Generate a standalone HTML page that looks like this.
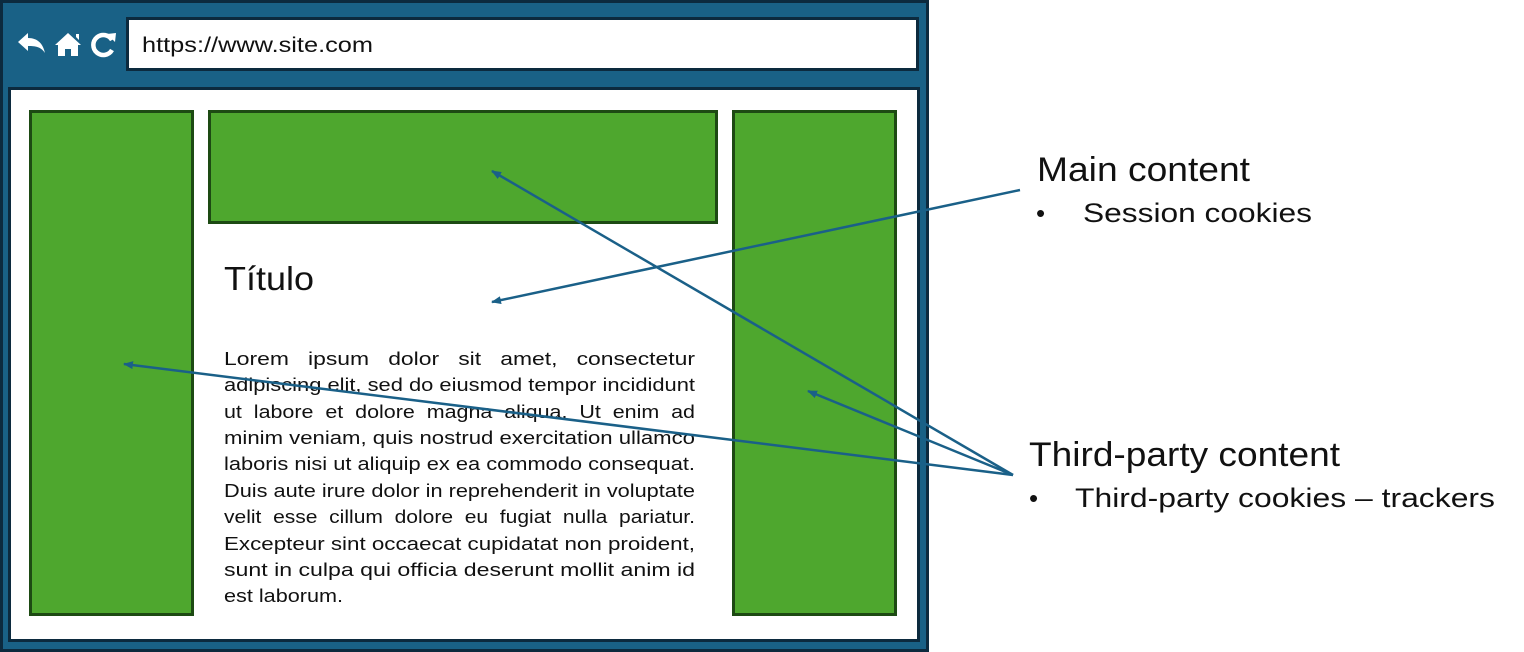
<!DOCTYPE html>
<html><head><meta charset="utf-8"><style>
html,body{margin:0;padding:0;background:#fff;width:1524px;height:652px;overflow:hidden}
svg{display:block}
text{font-family:"Liberation Sans",sans-serif;fill:#111}
</style></head><body>
<svg width="1524" height="652" viewBox="0 0 1524 652">
<defs>
<marker id="a" markerWidth="10" markerHeight="8" refX="9" refY="4" orient="auto" markerUnits="userSpaceOnUse">
<path d="M0,0 L10,4 L0,8 z" fill="#1a6088"/>
</marker>
</defs>
<rect x="1.5" y="1.5" width="926" height="649" fill="#196186" stroke="#0c2a3e" stroke-width="3"/>
<rect x="127.5" y="18.5" width="790" height="51" fill="#fff" stroke="#0c2a3e" stroke-width="3"/>
<text x="142" y="52" font-size="21" textLength="231" lengthAdjust="spacingAndGlyphs">https://www.site.com</text>
<rect x="9.5" y="88.5" width="909" height="552" fill="#fff" stroke="#0c2a3e" stroke-width="3"/>
<!-- icons -->
<path d="M18,42 L28,33 L28,38 C38,38 43,44 45,53 C41,47 36,46 28,46 L28,51 Z" fill="#fff"/>
<path d="M55,45 L68,33 L81,45 L78,45 L78,56 L71,56 L71,49 L65,49 L65,56 L58,56 L58,45 Z M76,34 L79,34 L79,40 L76,37 Z" fill="#fff"/>
<path d="M112,40 A10,10 0 1 0 112,50" fill="none" stroke="#fff" stroke-width="4.5"/>
<path d="M107,34 L116,33 L115,42 Z" fill="#fff"/>
<!-- green boxes -->
<rect x="30.5" y="111.5" width="162" height="503" fill="#4ea72e" stroke="#1d4a13" stroke-width="3"/>
<rect x="209.5" y="111.5" width="507" height="111" fill="#4ea72e" stroke="#1d4a13" stroke-width="3"/>
<rect x="733.5" y="111.5" width="162" height="503" fill="#4ea72e" stroke="#1d4a13" stroke-width="3"/>
<text x="224" y="290" font-size="33" textLength="90" lengthAdjust="spacingAndGlyphs">Título</text>
<g font-size="18">
<text x="224" y="365" textLength="471" lengthAdjust="spacingAndGlyphs">Lorem&#160;&#160;&#160;ipsum&#160;&#160;&#160;dolor&#160;&#160;&#160;sit&#160;&#160;&#160;amet,&#160;&#160;&#160;consectetur</text>
<text x="224" y="391" textLength="471" lengthAdjust="spacingAndGlyphs">adipiscing elit, sed do eiusmod tempor incididunt</text>
<text x="224" y="418" textLength="471" lengthAdjust="spacingAndGlyphs">ut&#160;&#160;labore&#160;&#160;et&#160;&#160;dolore&#160;&#160;magna&#160;&#160;aliqua.&#160;&#160;Ut&#160;&#160;enim&#160;&#160;ad</text>
<text x="224" y="444" textLength="471" lengthAdjust="spacingAndGlyphs">minim veniam, quis nostrud exercitation ullamco</text>
<text x="224" y="470" textLength="471" lengthAdjust="spacingAndGlyphs">laboris nisi ut aliquip ex ea commodo consequat.</text>
<text x="224" y="497" textLength="471" lengthAdjust="spacingAndGlyphs">Duis aute irure dolor in reprehenderit in voluptate</text>
<text x="224" y="523" textLength="471" lengthAdjust="spacingAndGlyphs">velit&#160; esse&#160; cillum&#160; dolore&#160; eu&#160; fugiat&#160; nulla&#160; pariatur.</text>
<text x="224" y="550" textLength="471" lengthAdjust="spacingAndGlyphs">Excepteur sint occaecat cupidatat non proident,</text>
<text x="224" y="576" textLength="471" lengthAdjust="spacingAndGlyphs">sunt in culpa qui officia deserunt mollit anim id</text>
<text x="224" y="602" textLength="119" lengthAdjust="spacingAndGlyphs">est laborum.</text>
</g>
<g stroke="#1a6088" stroke-width="2.5" fill="none">
<line x1="1020" y1="190" x2="492" y2="302" marker-end="url(#a)"/>
<line x1="1013" y1="475" x2="492" y2="171" marker-end="url(#a)"/>
<line x1="1013" y1="475" x2="808" y2="391" marker-end="url(#a)"/>
<line x1="1013" y1="475" x2="124" y2="364" marker-end="url(#a)"/>
</g>
<text x="1037" y="181" font-size="34" textLength="213" lengthAdjust="spacingAndGlyphs">Main content</text>
<text x="1036" y="222" font-size="26">•</text>
<text x="1083" y="222" font-size="27" textLength="229" lengthAdjust="spacingAndGlyphs">Session cookies</text>
<text x="1029" y="466" font-size="34" textLength="311" lengthAdjust="spacingAndGlyphs">Third-party content</text>
<text x="1029" y="507" font-size="26">•</text>
<text x="1075" y="507" font-size="27" textLength="420" lengthAdjust="spacingAndGlyphs">Third-party cookies – trackers</text>
</svg>
</body></html>
